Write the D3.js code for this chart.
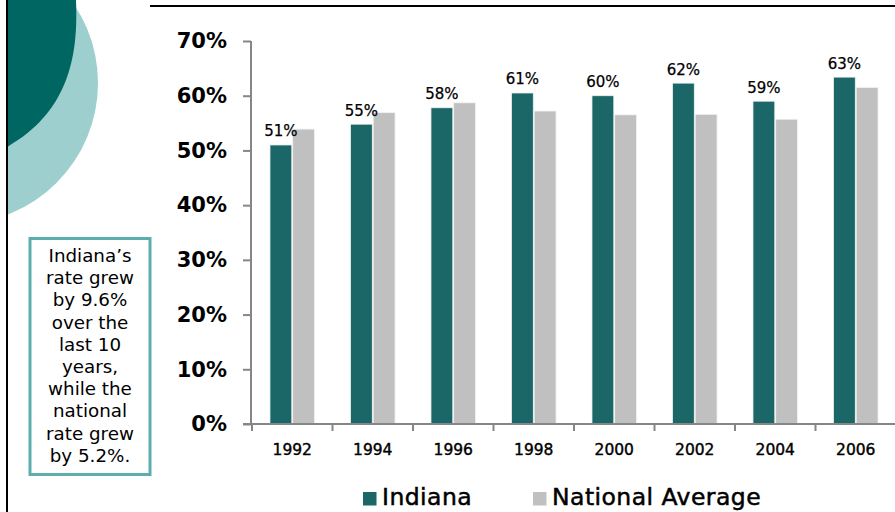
<!DOCTYPE html>
<html><head><meta charset="utf-8">
<script src="https://cdn.jsdelivr.net/npm/d3@7"></script>
<style>html,body{margin:0;padding:0;background:#fff;}svg{display:block;}</style>
</head><body>
<svg id="c" width="895" height="512"></svg>
<script>
const years = ["1992","1994","1996","1998","2000","2002","2004","2006"];
const series = ["Indiana","National Average"];
const indiana = [51.0, 54.8, 57.8, 60.5, 60.0, 62.3, 59.0, 63.4];
const national = [53.9, 56.9, 58.7, 57.2, 56.5, 56.6, 55.7, 61.5];
const indianaLabels = ["51%","55%","58%","61%","60%","62%","59%","63%"];
const yTicks = [0,10,20,30,40,50,60,70];
const noteLines = ["Indiana\u2019s","rate grew","by 9.6%","over the","last 10","years,","while the","national","rate grew","by 5.2%."];
const colors = {"Indiana":"#1b6767","National Average":"#c0c0c0"};

const svg = d3.select("#c");
const font = "DejaVu Sans, Verdana, sans-serif";

// decorations
const defs = svg.append("defs");
defs.append("clipPath").attr("id","lc").append("rect").attr("x",8).attr("y",0).attr("width",200).attr("height",512);
const deco = svg.append("g").attr("clip-path","url(#lc)");
deco.append("circle").attr("cx",-43).attr("cy",83).attr("r",141).attr("fill","#9dcfcf");
deco.append("path").attr("d","M0,0 L76,0 C78,50 72,110 7,147 L0,150 Z").attr("fill","#006661");
svg.append("line").attr("x1",7).attr("x2",7).attr("y1",0).attr("y2",512).attr("stroke","#000").attr("stroke-width",2);
svg.append("line").attr("x1",150).attr("x2",895).attr("y1",6).attr("y2",6).attr("stroke","#000").attr("stroke-width",2);

// note box
svg.append("rect").attr("x",30).attr("y",238.5).attr("width",120).attr("height",236).attr("fill","#fff").attr("stroke","#5eadad").attr("stroke-width",3);
svg.append("g").selectAll("text").data(noteLines).join("text")
  .attr("x",90).attr("y",(d,i)=>262+i*22.2).attr("text-anchor","middle")
  .attr("font-family",font).attr("font-size",18.3).attr("fill","#000").text(d=>d);

// scales
const y = d3.scaleLinear().domain([0,70]).range([424,41]);
const x = d3.scaleBand().domain(years).range([252,896]).padding(0);
const xs = d3.scaleBand().domain(series).range([0,x.bandwidth()]).paddingInner(0.04).paddingOuter(0.79);

// axes
const axisColor = "#868686";
const yAxis = svg.append("g").attr("transform","translate(251,0)")
  .call(d3.axisLeft(y).tickValues(yTicks).tickSize(8).tickPadding(16).tickFormat(d=>d+"%"));
yAxis.select(".domain").attr("stroke",axisColor).attr("stroke-width",2).attr("d","M0,41V424");
yAxis.selectAll(".tick line").attr("stroke",axisColor).attr("stroke-width",2);
yAxis.selectAll(".tick text").attr("font-family",font).attr("font-size",21).attr("font-weight","bold").attr("fill","#000");

// bars
const data = years.map((yr,i)=>({year:yr, vals:[{s:"Indiana",v:indiana[i]},{s:"National Average",v:national[i]}]}));
const groups = svg.append("g").selectAll("g").data(data).join("g").attr("transform",d=>`translate(${x(d.year)},0)`);
groups.selectAll("rect").data(d=>d.vals).join("rect")
  .attr("x",d=>xs(d.s)).attr("width",xs.bandwidth())
  .attr("y",d=>y(d.v)).attr("height",d=>y(0)-y(d.v))
  .attr("fill",d=>colors[d.s]).attr("stroke","#f2f2f2").attr("stroke-width",0.8);

// value labels
svg.append("g").selectAll("text").data(years).join("text")
  .attr("x",d=>x(d)+xs("Indiana")+xs.bandwidth()/2)
  .attr("y",(d,i)=>y(indiana[i])-8.5)
  .attr("text-anchor","middle").attr("font-family",font).attr("font-size",15).attr("fill","#000")
  .attr("stroke","#000").attr("stroke-width",0.25)
  .text((d,i)=>indianaLabels[i]);

// x axis
const xAxis = svg.append("g").attr("transform","translate(0,424)")
  .call(d3.axisBottom(x).tickSize(0).tickPadding(20));
xAxis.select(".domain").remove();
xAxis.selectAll(".tick text").attr("font-family",font).attr("font-size",15.5).attr("fill","#000")
  .attr("stroke","#000").attr("stroke-width",0.4);
svg.append("line").attr("x1",243).attr("x2",895).attr("y1",424).attr("y2",424).attr("stroke",axisColor).attr("stroke-width",2);
svg.append("g").selectAll("line").data(years).join("line")
  .attr("x1",d=>x(d)).attr("x2",d=>x(d)).attr("y1",424).attr("y2",431)
  .attr("stroke",axisColor).attr("stroke-width",2);

// legend
const legX = [363, 533];
const leg = svg.append("g").selectAll("g").data(series).join("g").attr("transform",(d,i)=>`translate(${legX[i]},0)`);
leg.append("rect").attr("x",0).attr("y",492).attr("width",13.5).attr("height",13.5).attr("fill",d=>colors[d]);
leg.append("text").attr("x",19).attr("y",505).attr("font-family",font).attr("font-size",23.5).attr("letter-spacing",0.45).attr("fill","#000")
  .attr("stroke","#000").attr("stroke-width",0.5).text(d=>d);
</script>
</body></html>
